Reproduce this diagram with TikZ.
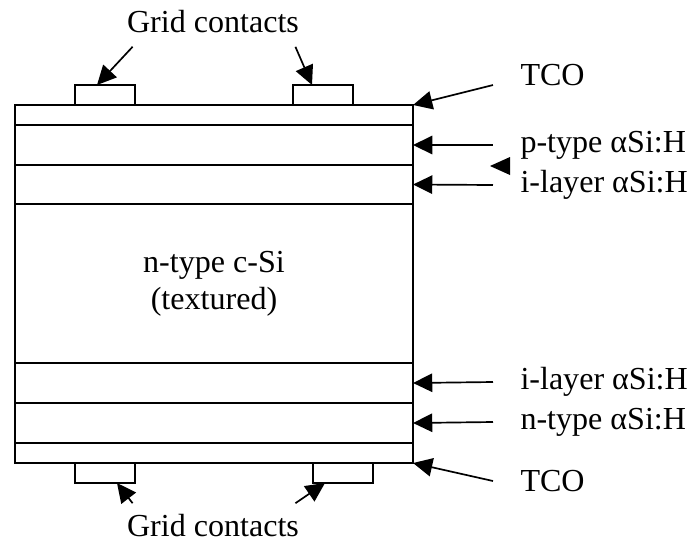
\documentclass[tikz,border=0pt]{standalone}
\usepackage{fontspec}
\setmainfont{Liberation Serif}
\usetikzlibrary{arrows.meta}

\begin{document}
\begin{tikzpicture}[x=0.025cm,y=-0.025cm,
  layer/.style={draw,line width=1.4pt,minimum width=9.95cm,inner sep=0pt,outer sep=0pt},
  contact/.style={draw,line width=1.4pt,minimum width=1.5cm,minimum height=0.5cm,inner sep=0pt,outer sep=0pt},
  lbl/.style={font=\fontsize{22.8}{27}\selectfont,inner sep=3pt},
  lead/.style={-{Triangle[length=0.48cm,width=0.46cm]},line width=1.2pt}]
\useasboundingbox (0,0) rectangle (692,542);
% layer stack
\node[layer,minimum height=0.5cm] (tcot) at (214,115) {};
\node[layer,minimum height=1cm] (pl) at (214,145) {};
\node[layer,minimum height=0.975cm] (il) at (214,184.5) {};
\node[layer,minimum height=3.975cm,align=center,font=\fontsize{22.8}{26.5}\selectfont] (csi) at (214,283.5) {n-type c-Si\\(textured)};
\node[layer,minimum height=1cm] (il2) at (214,383) {};
\node[layer,minimum height=1cm] (nl) at (214,423) {};
\node[layer,minimum height=0.5cm] (tcob) at (214,453) {};
% grid contacts
\node[contact] (ct1) at (105,95) {};
\node[contact] (ct2) at (323,95) {};
\node[contact] (ct3) at (105,473) {};
\node[contact] (ct4) at (343,473) {};
% labels
\node[lbl] (gt) at (213,22) {Grid contacts};
\node[lbl] (gb) at (213,526) {Grid contacts};
\node[lbl,anchor=west] (tco1) at (516,75) {TCO};
\node[lbl,anchor=west] (ptype) at (516,145) {p-type αSi:H};
\node[lbl,anchor=west] (ilay1) at (516,185) {i-layer αSi:H};
\node[lbl,anchor=west] (ilay2) at (516,382) {i-layer αSi:H};
\node[lbl,anchor=west] (ntype) at (516,422) {n-type αSi:H};
\node[lbl,anchor=west] (tco2) at (516,481) {TCO};
% leaders
\draw[lead] ([xshift=0.25cm,yshift=-0.225cm]gt.south west) -- ([xshift=-0.2cm]ct1.north);
\draw[lead] ([xshift=-0.2cm,yshift=-0.225cm]gt.south east) -- ([xshift=-0.275cm]ct2.north);
\draw[lead] ([xshift=0.25cm,yshift=0.175cm]gb.north west) -- ([xshift=0.3cm]ct3.south);
\draw[lead] ([xshift=-0.2cm,yshift=0.175cm]gb.north east) -- ([xshift=-0.45cm]ct4.south);
\draw[lead] ([xshift=-0.575cm,yshift=-0.25cm]tco1.west) -- (tcot.north east);
\draw[lead] ([xshift=-0.575cm]ptype.west) -- (pl.east);
\draw[lead] ([xshift=-0.575cm]ilay1.west) -- (il.east);
\draw[lead] ([xshift=-0.575cm]ilay2.west) -- (il2.east);
\draw[lead] ([xshift=-0.575cm]ntype.west) -- (nl.east);
\draw[lead] ([xshift=-0.575cm]tco2.west) -- (tcob.south east);
% stray arrowhead
\fill (490,166) -- (510,157) -- (510,175) -- cycle;
\end{tikzpicture}
\end{document}
